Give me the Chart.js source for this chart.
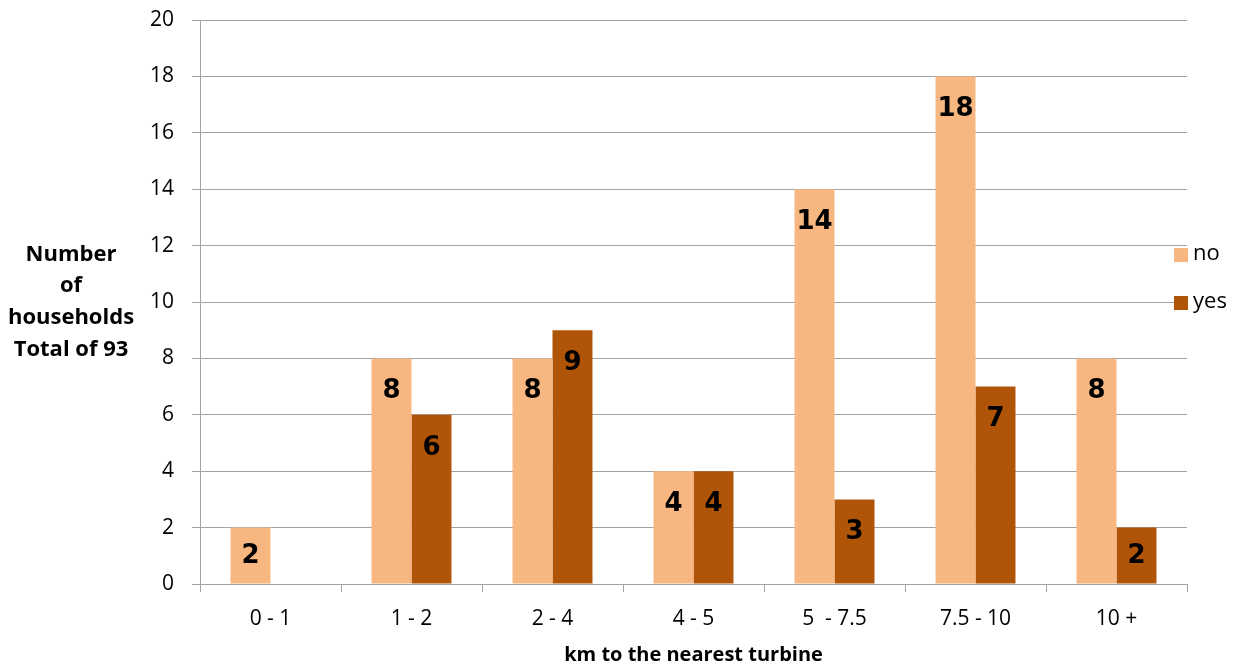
<!DOCTYPE html>
<html>
<head>
<meta charset="utf-8">
<script src="https://cdn.jsdelivr.net/npm/chart.js@4/dist/chart.umd.min.js"></script>
<style>
  html, body { margin: 0; padding: 0; background: #fff; }
  #wrap { width: 1246px; height: 668px; position: relative; }
</style>
</head>
<body>
<div id="wrap"><canvas id="chart"></canvas></div>
<script>
// distance bands and household counts
const categories = ["0 - 1", "1 - 2", "2 - 4", "4 - 5", "5  - 7.5", "7.5 - 10", "10 +"];
const noValues = [2, 8, 8, 4, 14, 18, 8];
const yesValues = [null, 6, 9, 4, 3, 7, 2];
const yTicks = [0, 2, 4, 6, 8, 10, 12, 14, 16, 18, 20];
const yTitleLines = ["Number", "of", "households", "Total of 93"];
const xTitle = "km to the nearest turbine";

const tickFont = { family: "Open Sans", size: 21 };
const gridColor = "#a3a3a3";

// numbers inside the bars, near the top
const barLabels = {
    id: 'barLabels',
    afterDatasetsDraw(chart) {
        const ctx = chart.ctx;
        ctx.save();
        ctx.font = "bold 26px 'DejaVu Sans'";
        ctx.fillStyle = "#000";
        ctx.textAlign = "center";
        ctx.textBaseline = "middle";
        chart.data.datasets.forEach((ds, i) => {
            const meta = chart.getDatasetMeta(i);
            meta.data.forEach((bar, j) => {
                const v = ds.data[j];
                if (v == null || v === 0) return;
                const h = bar.base - bar.y;
                ctx.fillText(String(v), bar.x, bar.y + Math.min(33, h / 2 + 1));
            });
        });
        ctx.restore();
    }
};

// horizontal y title on the left + legend on the right
const extras = {
    id: 'extras',
    afterDraw(chart) {
        const ctx = chart.ctx;
        const area = chart.chartArea;
        ctx.save();
        ctx.fillStyle = "#000";
        ctx.font = "bold 22px 'Open Sans'";
        ctx.textAlign = "center";
        ctx.textBaseline = "middle";
        const midY = chart.scales.y.getPixelForValue(10);
        yTitleLines.forEach((line, i) => {
            ctx.fillText(line, 71, midY + (i - 1.5) * 31.7);
        });

        ctx.font = "22px 'Open Sans'";
        ctx.textAlign = "left";
        chart.data.datasets.forEach((ds, i) => {
            const y = 255 + i * 48;
            ctx.fillStyle = ds.backgroundColor;
            ctx.fillRect(area.right - 13, y - 7, 14, 14);
            ctx.fillStyle = "#000";
            ctx.fillText(ds.label, area.right + 6, y - 1);
        });
        ctx.restore();
    }
};

new Chart(document.getElementById('chart'), {
    type: 'bar',
    data: {
        labels: categories,
        datasets: [
            {
                label: 'no',
                data: noValues,
                backgroundColor: '#F8B780',
                categoryPercentage: 0.567,
                barPercentage: 1
            },
            {
                label: 'yes',
                data: yesValues,
                backgroundColor: '#B05408',
                categoryPercentage: 0.567,
                barPercentage: 1
            }
        ]
    },
    options: {
        responsive: true,
        maintainAspectRatio: false,
        animation: false,
        layout: { padding: { left: 0, right: 59, top: 20, bottom: 0 } },
        plugins: {
            legend: { display: false },
            tooltip: { enabled: false }
        },
        scales: {
            x: {
                grid: {
                    offset: true,
                    drawOnChartArea: false,
                    drawTicks: true,
                    tickLength: 8,
                    color: gridColor
                },
                border: { color: gridColor, width: 1 },
                ticks: { color: '#000', font: tickFont, padding: 14, maxRotation: 0 },
                title: {
                    display: true,
                    text: xTitle,
                    color: '#000',
                    font: { family: "Open Sans", size: 20, weight: 'bold' },
                    padding: { top: 0, bottom: 1 }
                },
                afterFit(scale) {
                    scale.height = 84;
                    scale.paddingLeft = 0;
                    scale.paddingRight = 0;
                }
            },
            y: {
                min: 0,
                max: 20,
                afterBuildTicks(scale) { scale.ticks = yTicks.map(v => ({ value: v })); },
                grid: { color: gridColor, tickLength: 8 },
                border: { color: gridColor, width: 1 },
                ticks: { color: '#000', font: tickFont, padding: 18 },
                afterFit(scale) {
                    scale.width = 200;
                    scale.paddingTop = 0;
                    scale.paddingBottom = 0;
                }
            }
        }
    },
    plugins: [barLabels, extras]
});
</script>
</body>
</html>
